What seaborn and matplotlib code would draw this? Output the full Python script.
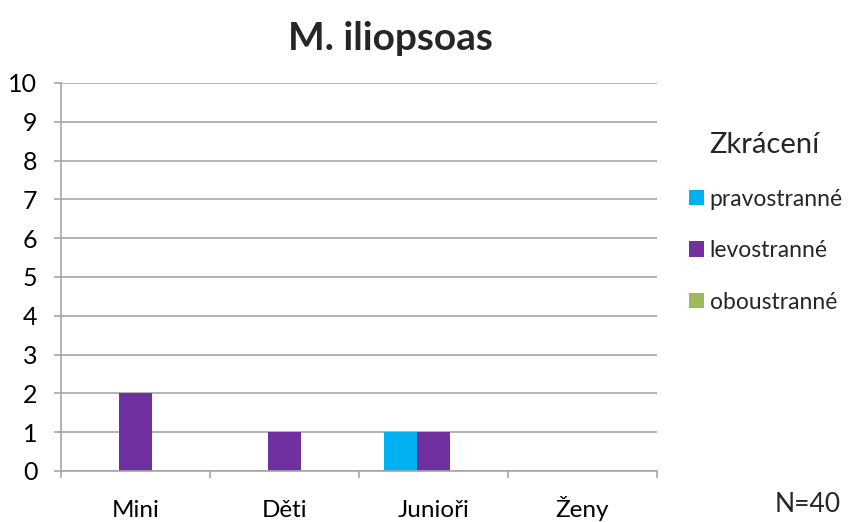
import matplotlib
matplotlib.use("Agg")
import matplotlib.pyplot as plt
import seaborn as sns
import pandas as pd
from matplotlib.ticker import FixedLocator

categories = ["Mini", "Děti", "Junioři", "Ženy"]
series_names = ["pravostranné", "levostranné", "oboustranné"]
pravostranne = [0, 0, 1, 0]
levostranne = [2, 1, 1, 0]
oboustranne = [0, 0, 0, 0]
colors = ["#00B0F0", "#7030A0", "#9BBB59"]
y_ticks = list(range(0, 11))

sns.set_theme(style="white")
plt.rcParams["font.family"] = ["Lato", "DejaVu Sans"]

rows = []
for name, vals in zip(series_names, [pravostranne, levostranne, oboustranne]):
    for cat, v in zip(categories, vals):
        rows.append({"Kategorie": cat, "Zkrácení": name, "Počet": v})
df = pd.DataFrame(rows)

fig = plt.figure(figsize=(8.57, 5.22), dpi=100)
ax = fig.add_axes([61 / 857, 1 - 471 / 522, (657 - 61) / 857, (471 - 83) / 522])

sns.barplot(data=df, x="Kategorie", y="Počet", hue="Zkrácení",
            order=categories, hue_order=series_names,
            palette=colors, width=0.667, saturation=1, ax=ax,
            errorbar=None, legend=True, linewidth=0)

ax.set_xlim(-0.5, 3.5)
ax.set_ylim(0, 10)
ax.set_yticks(y_ticks)
ax.yaxis.grid(True, color="#A6A6A6", linewidth=1.2)
ax.set_axisbelow(True)
ax.set_xlabel("")
ax.set_ylabel("")

for s in ["top", "right"]:
    ax.spines[s].set_visible(False)
for s in ["left", "bottom"]:
    ax.spines[s].set_color("#A6A6A6")
    ax.spines[s].set_linewidth(1.2)

ax.xaxis.set_minor_locator(FixedLocator([-0.5, 0.5, 1.5, 2.5, 3.5]))
ax.tick_params(axis="x", which="major", length=0, labelsize=17.5, pad=33, colors="black")
ax.tick_params(axis="x", which="minor", length=5, width=1.2, color="#A6A6A6", bottom=True)
ax.tick_params(axis="y", which="major", length=5, width=1.2, color="#A6A6A6",
               labelsize=18, pad=12, left=True, labelcolor="black")
for lbl in ax.get_xticklabels():
    lbl.set_verticalalignment("baseline")

handles, labels = ax.get_legend_handles_labels()
ax.get_legend().remove()
leg = fig.legend(handles, labels, title="Zkrácení", loc="upper left",
                 bbox_to_anchor=(680 / 857, 1 - 123 / 522), frameon=False,
                 fontsize=16.5, title_fontsize=21, handlelength=0.65, handleheight=0.65,
                 handletextpad=0.25, labelspacing=1.33, borderaxespad=0)
leg._legend_box.align = "left"
leg.get_title().set_position((20, 0))

fig.text(390 / 857, 1 - 38 / 522, "M. iliopsoas", ha="center", va="center",
         fontsize=28, fontweight="bold")
fig.text(808 / 857, 1 - 505 / 522, "N=40", ha="center", va="center", fontsize=19)

fig.savefig("out.png", dpi=100)
